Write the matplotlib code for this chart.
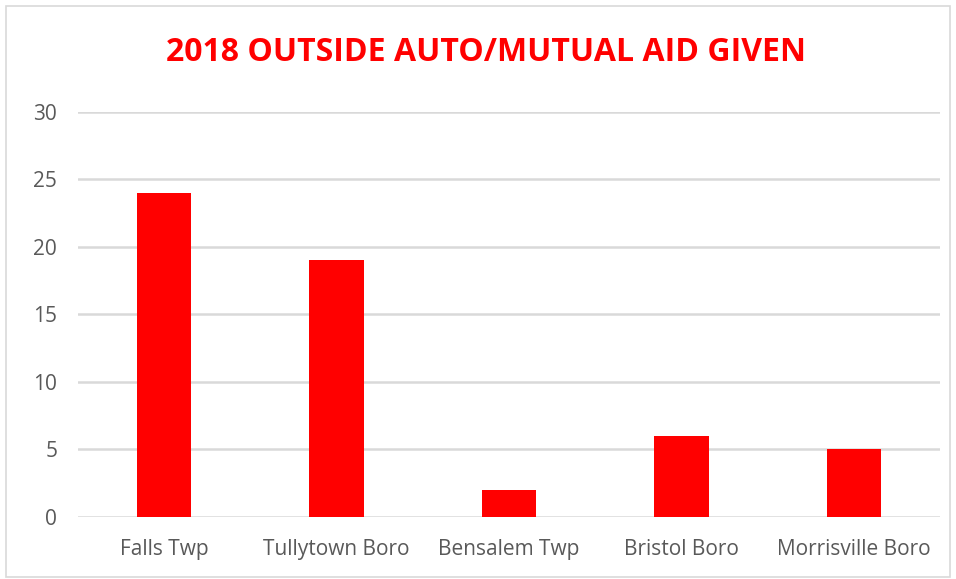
import matplotlib

matplotlib.use("Agg")

import matplotlib.pyplot as plt
from matplotlib.patches import Rectangle

# 데이터
categories = ["Falls Twp", "Tullytown Boro", "Bensalem Twp", "Bristol Boro", "Morrisville Boro"]
aid_given = [24, 19, 2, 6, 5]
y_ticks = [0, 5, 10, 15, 20, 25, 30]
title = "2018 OUTSIDE AUTO/MUTUAL AID GIVEN"

fig = plt.figure(figsize=(9.56, 5.79), dpi=100)
ax = fig.add_axes([0.0816, 0.1076, 0.9017, 0.6995])

# 바깥 테두리
fig.patches.append(
    Rectangle((0.006, 0.003), 0.988, 0.987, transform=fig.transFigure,
              fill=False, edgecolor="#d9d9d9", linewidth=1.2)
)

x = range(len(categories))
ax.bar(x, aid_given, width=0.315, color="#ff0000", zorder=3)

ax.set_xlim(-0.5, len(categories) - 0.5)
ax.set_ylim(0, 30)
ax.set_yticks(y_ticks)
ax.set_xticks(list(x))
ax.set_xticklabels(categories)

ax.yaxis.grid(True, color="#d9d9d9", linewidth=1.8, zorder=0)
for side in ["top", "right", "left", "bottom"]:
    ax.spines[side].set_visible(False)
ax.tick_params(axis="both", length=0, colors="#595959", labelsize=15)
ax.tick_params(axis="y", pad=15)
ax.tick_params(axis="x", pad=16)
for lbl in ax.get_xticklabels() + ax.get_yticklabels():
    lbl.set_family("Open Sans")

fig.text(0.508, 0.91, title, ha="center", va="center", color="#ff0000",
         fontsize=23, fontweight="bold", family="Open Sans")

fig.savefig("out.png", dpi=100)
plt.close(fig)
